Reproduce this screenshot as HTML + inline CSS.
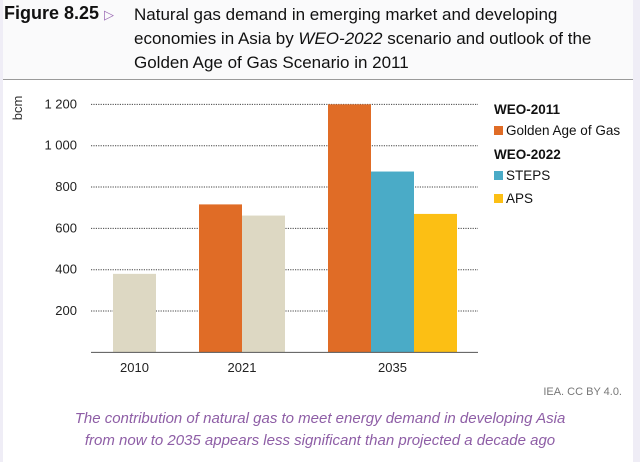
<!DOCTYPE html>
<html><head><meta charset="utf-8"><style>
body{margin:0;width:640px;height:462px;overflow:hidden;background:#efedf6;font-family:"Liberation Sans",sans-serif;}
#wrap{position:absolute;left:3px;top:0;width:630px;height:462px;background:#fff;}
#head{position:absolute;left:0;top:0;width:630px;height:79px;background:#fafafb;border-bottom:1.5px solid #9a9a9a;}
.t{position:absolute;font-size:17px;color:#111;white-space:nowrap;}
</style></head><body>
<div id="wrap">
<div id="head">
<div class="t" style="left:1px;top:3px;font-weight:bold;font-size:18px">Figure 8.25 <span style="color:#9b6bb5;font-weight:normal;font-size:13px">▷</span></div>
<div class="t" style="left:131px;top:3px;line-height:24px">Natural gas demand in emerging market and developing<br>economies in Asia by <i>WEO-2022</i> scenario and outlook of the<br>Golden Age of Gas Scenario in 2011</div>
</div>
</div>
<svg id="chart" width="640" height="462" style="position:absolute;left:0;top:0" font-family="Liberation Sans, sans-serif"></svg>
<div style="position:absolute;right:18px;top:386px;font-size:11px;color:#777">IEA. CC BY 4.0.</div>
<div style="position:absolute;left:0;width:640px;top:408px;text-align:center;font-size:15px;font-style:italic;color:#8e5ea6;line-height:22px">The contribution of natural gas to meet energy demand in developing Asia<br>from now to 2035 appears less significant than projected a decade ago</div>
<script>
const categories=["2010","2021","2035"];
const series=["Golden Age of Gas","STEPS","APS","Historical"];
const vals2010=[380];
const vals2021=[716,662];
const vals2035=[1200,875,670];
const yTicks=[200,400,600,800,1000,1200];
const yTickLabels=["200","400","600","800","1 000","1 200"];
const colors={gold:"#e06c26",steps:"#4aabc7",aps:"#fcbf14",hist:"#ddd8c3"};
const svg=document.getElementById('chart');
const NS="http://www.w3.org/2000/svg";
const y0=352.4,k=0.2067,xL=91,xR=478,bw=43;
const y=v=>y0-v*k;
function mk(t,a,p){const e=document.createElementNS(NS,t);for(const n in a)e.setAttribute(n,a[n]);(p||svg).appendChild(e);return e;}
yTicks.forEach((v,i)=>{
 const g=mk('line',{x1:xL,x2:xR,y1:y(v),y2:y(v),stroke:'#444','stroke-width':1,'stroke-dasharray':'1.2 1.2'});
 
 
 const t=mk('text',{x:77,y:y(v)+4,'text-anchor':'end','font-size':13,fill:'#222'});t.textContent=yTickLabels[i];
 
 
});
const yt=mk('text',{transform:'translate(22,108) rotate(-90)','font-size':13,fill:'#333','text-anchor':'middle'});yt.textContent='bcm';


const groups=[{c:categories[0],start:113,vals:vals2010,cols:[colors.hist]},
 {c:categories[1],start:199,vals:vals2021,cols:[colors.gold,colors.hist]},
 {c:categories[2],start:328,vals:vals2035,cols:[colors.gold,colors.steps,colors.aps]}];
groups.forEach(g=>{
 g.vals.forEach((v,i)=>{
  const r=mk('rect',{x:g.start+i*bw,y:y(v),width:bw,height:v*k,fill:g.cols[i]});
  
  
 });
 const t=mk('text',{x:g.start+g.vals.length*bw/2,y:372,'text-anchor':'middle','font-size':13,fill:'#222'});t.textContent=g.c;
 
 
});
const ax=mk('line',{x1:xL,x2:xR,y1:y0,y2:y0,stroke:'#555','stroke-width':1});


const leg=[["WEO-2011",null,114],[series[0],colors.gold,135],["WEO-2022",null,159],[series[1],colors.steps,180],[series[2],colors.aps,203]];
leg.forEach(l=>{
 if(l[1]){const s=mk('rect',{x:494,y:l[2]-9,width:9,height:9,fill:l[1]});
  
  }
 const t=mk('text',{x:l[1]?506:494,y:l[2],'font-size':13.5,'font-weight':l[1]?'normal':'bold',fill:'#111'});t.textContent=l[0];
 
 
});
</script>
</body></html>
